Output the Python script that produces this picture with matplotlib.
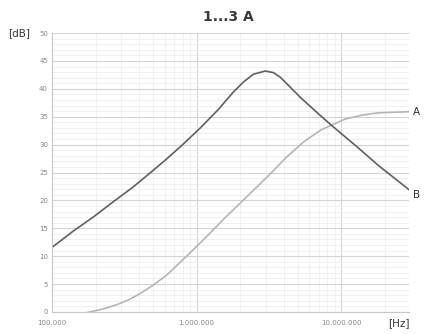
import matplotlib.pyplot as plt
from matplotlib.ticker import FixedLocator, LogLocator, NullFormatter

# curve A (light) and curve B (dark)
freq_a = [1.5e5, 1.83e5, 2.3e5, 2.8e5, 3.4e5, 4.06e5, 5e5, 6.2e5, 9e5, 1.2e6, 1.6e6,
          2.17e6, 3.1e6, 4.2e6, 5.5e6, 7.2e6, 8.6e6, 1.07e7, 1.4e7, 1.8e7, 2.95e7]
db_a = [-0.5, 0.0, 0.6, 1.3, 2.2, 3.3, 4.8, 6.6, 10.6, 13.8, 17.1,
        20.4, 24.3, 27.8, 30.5, 32.6, 33.5, 34.6, 35.3, 35.7, 35.9]

freq_b = [1e5, 1.4e5, 1.92e5, 2.6e5, 3.63e5, 4.8e5, 6.05e5, 8e5, 1.06e6, 1.4e6,
          1.79e6, 2.1e6, 2.46e6, 2.98e6, 3.4e6, 3.78e6, 4.4e6, 5.2e6, 6.9e6,
          8.7e6, 1.26e7, 1.8e7, 2.95e7]
db_b = [11.6, 14.5, 17.0, 19.6, 22.4, 25.0, 27.2, 30.0, 33.0, 36.2,
        39.4, 41.2, 42.6, 43.2, 42.9, 42.1, 40.4, 38.5, 35.6,
        33.3, 29.8, 26.3, 21.9]

xticks = [1e5, 1e6, 1e7]
xlabels = ['100.000', '1.000.000', '10.000.000']
yticks = [0, 5, 10, 15, 20, 25, 30, 35, 40, 45, 50]

fig = plt.figure(figsize=(4.24, 3.34), dpi=100)
ax = fig.add_axes([0.123, 0.066, 0.842, 0.835])

ax.set_xscale('log')
ax.set_xlim(1e5, 2.95e7)
ax.set_ylim(0, 50)

ax.xaxis.set_major_locator(FixedLocator(xticks))
ax.set_xticklabels(xlabels)
ax.xaxis.set_minor_locator(LogLocator(base=10, subs=range(2, 10)))
ax.xaxis.set_minor_formatter(NullFormatter())
ax.set_yticks(yticks)
ax.set_yticks(range(0, 51), minor=True)

ax.grid(which='major', color='#d4d4d4', linewidth=0.8)
ax.grid(which='minor', color='#eeeeee', linewidth=0.6)
ax.set_axisbelow(True)

for s in ['top', 'right']:
    ax.spines[s].set_visible(False)
for s in ['left', 'bottom']:
    ax.spines[s].set_color('#c8c8c8')

ax.tick_params(which='both', length=0, labelsize=5, labelcolor='#888888', pad=3)
ax.tick_params(axis='x', pad=6)

ax.plot(freq_a, db_a, color='#b5b5b5', linewidth=1.2)
ax.plot(freq_b, db_b, color='#606060', linewidth=1.2)

ax.text(1.01, 35.9 / 50, 'A', transform=ax.transAxes, fontsize=7.5, color='#333333', va='center')
ax.text(1.01, 21.0 / 50, 'B', transform=ax.transAxes, fontsize=7.5, color='#333333', va='center')

fig.text(0.02, 0.9, '[dB]', fontsize=7.5, color='#333333', va='center')
fig.text(0.915, 0.033, '[Hz]', fontsize=7.5, color='#333333', va='center')
fig.text(0.538, 0.949, '1...3 A', fontsize=10, fontweight='bold', color='#3a3a3a', ha='center', va='center')

plt.savefig('out.png', dpi=100)
